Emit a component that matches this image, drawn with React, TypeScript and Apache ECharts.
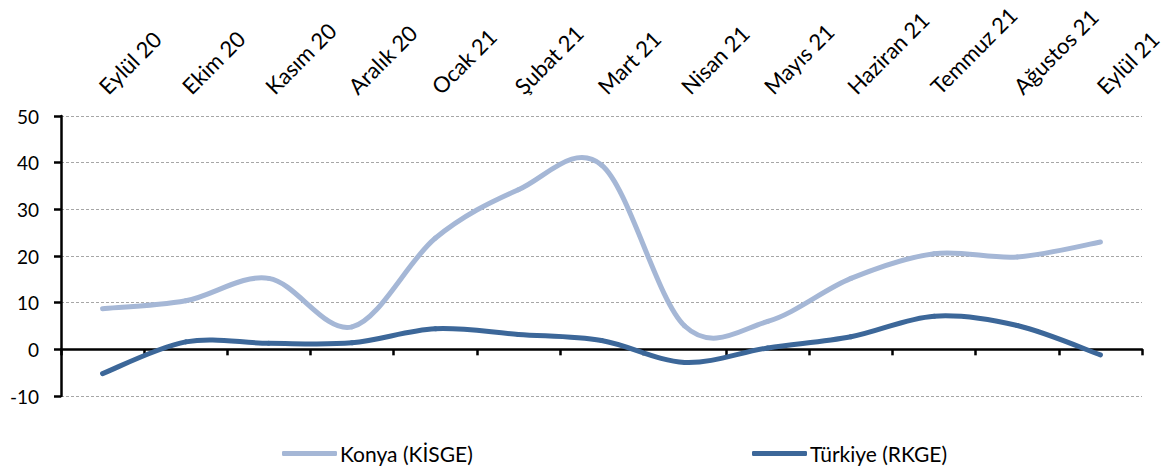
import React, { useEffect, useRef } from "react";
import * as echarts from "echarts";

const categories = [
  "Eylül 20", "Ekim 20", "Kasım 20", "Aralık 20", "Ocak 21", "Şubat 21", "Mart 21",
  "Nisan 21", "Mayıs 21", "Haziran 21", "Temmuz 21", "Ağustos 21", "Eylül 21",
];
const konya = [8.7, 10.4, 15.2, 4.8, 23.8, 34.2, 39.5, 5.0, 6.0, 15.2, 20.5, 19.8, 23.0];
const turkiye = [-5.2, 1.6, 1.3, 1.4, 4.4, 3.2, 1.9, -2.8, 0.3, 2.7, 7.1, 5.1, -1.2];
const seriesNames = ["Konya (KİSGE)", "Türkiye (RKGE)"];
const yMin = -10;
const yMax = 50;
const yInterval = 10;

const FONT = "Lato";
const LIGHT = "#A5B7D6";
const DARK = "#3C6799";

// Excel-like smoothed line: one Bezier segment per pair of neighbouring points,
// positioned through the chart's own axes (api.coord).
function smoothSeries(name: string, values: number[], color: string, z: number) {
  const n = values.length;
  return {
    name,
    type: "custom",
    xAxisIndex: 0,
    yAxisIndex: 0,
    data: values.map((v, i) => [i, v]),
    encode: { x: 0, y: 1 },
    itemStyle: { color },
    z,
    clip: false,
    renderItem: (params: any, api: any) => {
      const i = params.dataIndex;
      if (i >= n - 1) return { type: "group", children: [] };
      const p = (k: number) => {
        const kk = Math.max(0, Math.min(n - 1, k));
        return api.coord([kk, values[kk]]);
      };
      const p0 = p(i - 1);
      const p1 = p(i);
      const p2 = p(i + 1);
      const p3 = p(i + 2);
      const t = 1 / 6;
      return {
        type: "bezierCurve",
        shape: {
          x1: p1[0],
          y1: p1[1],
          x2: p2[0],
          y2: p2[1],
          cpx1: p1[0] + (p2[0] - p0[0]) * t,
          cpy1: p1[1] + (p2[1] - p0[1]) * t,
          cpx2: p2[0] - (p3[0] - p1[0]) * t,
          cpy2: p2[1] - (p3[1] - p1[1]) * t,
        },
        style: { stroke: color, lineWidth: 5, fill: null, lineCap: "round" },
      };
    },
  };
}

export default function App() {
  const ref = useRef<HTMLDivElement>(null);
  useEffect(() => {
    if (!ref.current) return;
    const chart = echarts.init(ref.current, null, { renderer: "svg" });
    const legendCommon = {
      top: 443,
      padding: 0,
      icon: "roundRect",
      itemWidth: 55,
      itemHeight: 5,
      itemGap: 0,
      textStyle: { fontFamily: FONT, fontSize: 21, color: "#000", padding: [0, 0, 0, -2] },
    };
    chart.setOption({
      animation: false,
      backgroundColor: "#ffffff",
      textStyle: { fontFamily: FONT },
      grid: { left: 61, right: 22, top: 116, bottom: 74, containLabel: false },
      legend: [
        { ...legendCommon, data: [seriesNames[0]], left: 282 },
        { ...legendCommon, data: [seriesNames[1]], left: 752 },
      ],
      xAxis: [
        {
          type: "category",
          data: categories,
          position: "bottom",
          boundaryGap: true,
          axisLine: { onZero: true, lineStyle: { color: "#000", width: 2.5 } },
          axisTick: { show: true, alignWithLabel: false, length: 6, lineStyle: { color: "#000", width: 2.5 } },
          axisLabel: { show: false },
          splitLine: { show: false },
        },
        {
          type: "category",
          data: categories,
          position: "top",
          boundaryGap: true,
          axisLine: { show: false },
          axisTick: { show: false },
          axisLabel: {
            show: true,
            rotate: -45,
            interval: 0,
            margin: 26,
            fontFamily: FONT,
            fontSize: 22,
            color: "#000",
          },
          splitLine: { show: false },
        },
      ],
      yAxis: {
        type: "value",
        min: yMin,
        max: yMax,
        interval: yInterval,
        axisLine: { show: true, lineStyle: { color: "#000", width: 2.5 } },
        axisTick: { show: true, length: 7, lineStyle: { color: "#000", width: 2.5 } },
        axisLabel: { fontFamily: FONT, fontSize: 19, color: "#000", margin: 22 },
        splitLine: { show: true, lineStyle: { color: "#a6a6a6", type: [3, 2], width: 1 } },
      },
      series: [
        smoothSeries(seriesNames[0], konya, LIGHT, 3),
        smoothSeries(seriesNames[1], turkiye, DARK, 4),
      ],
    });
    return () => chart.dispose();
  }, []);
  return (
    <div
      ref={ref}
      style={{ position: "fixed", left: 0, top: 0, width: 1165, height: 470, background: "#fff" }}
    />
  );
}
